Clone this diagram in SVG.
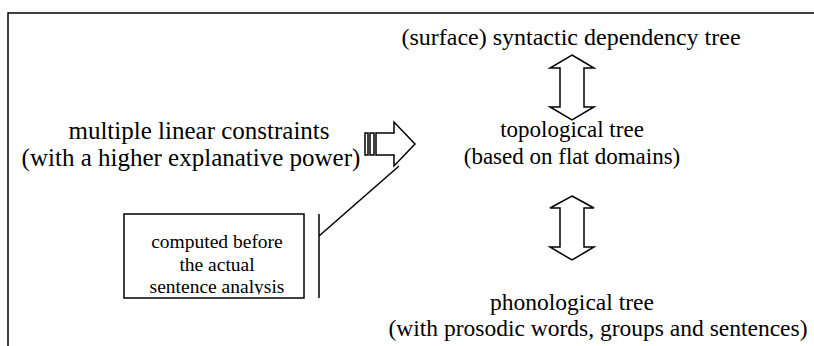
<svg xmlns="http://www.w3.org/2000/svg" width="814" height="346" viewBox="0 0 814 346">
<style>
.t{font-family:"Liberation Serif","Times New Roman",serif;font-size:24px;fill:#000;text-anchor:middle}
.m{font-size:23px}
.b{font-size:23.5px}
.l{font-size:25px}
.s{font-family:"Liberation Serif","Times New Roman",serif;font-size:19.5px;fill:#000;text-anchor:middle}
.ln{fill:none;stroke:#000;stroke-width:1.5}
.ar{fill:#fff;stroke:#000;stroke-width:1.5;stroke-linejoin:miter}
</style>
<defs>
<clipPath id="boxclip"><rect x="124" y="214" width="180" height="80.5"/></clipPath>
</defs>
<rect width="814" height="346" fill="#fff"/>
<g id="frame"><path class="ln" d="M8,346 V13 H814"/></g>
<g id="syntactic"><text class="t" x="571" y="45">(surface) syntactic dependency tree</text></g>
<g id="topological"><text class="t m" x="572" y="137">topological tree</text><text class="t m" x="572" y="164">(based on flat domains)</text></g>
<g id="phonological"><text class="t b" x="572" y="310">phonological tree</text><text class="t b" x="598" y="336">(with prosodic words, groups and sentences)</text></g>
<g id="constraints"><text class="t l" x="199" y="139">multiple linear constraints</text><text class="t l" x="191" y="166">(with a higher explanative power)</text></g>
<g id="note"><rect class="ln" x="124" y="214" width="180" height="84"/>
<g clip-path="url(#boxclip)"><text class="s" x="217" y="248">computed before</text><text class="s" x="217" y="271">the actual</text><text class="s" x="217" y="293">sentence analysis</text></g></g>
<g id="connectors">
<path class="ar" d="M572,55 L594,68 H584 V107 H594 L572,120 L550,107 H560 V68 H550 Z"/>
<path class="ar" d="M572,196 L594,208 H584 V247 H594 L572,260 L550,247 H560 V208 H550 Z"/>
<rect class="ar" x="365" y="133" width="3" height="22"/>
<rect class="ar" x="370" y="133" width="4" height="22"/>
<path class="ar" d="M376,133 H394 V122 L415,144 L394,166 V155 H376 Z"/>
<path class="ln" d="M319,214 V298 M319,236 L399,166"/>
</g>
</svg>
